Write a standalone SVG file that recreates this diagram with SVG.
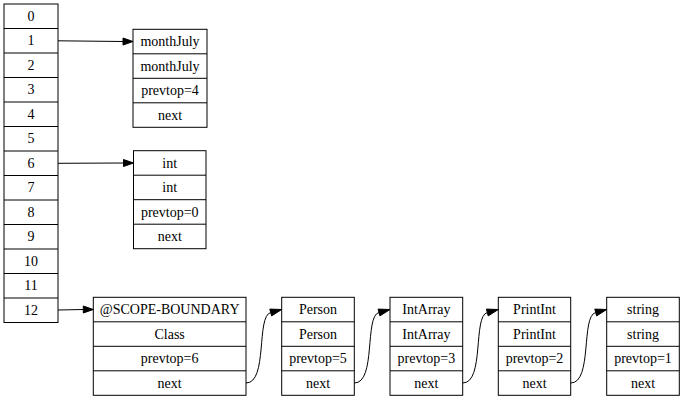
<svg xmlns="http://www.w3.org/2000/svg" width="683" height="400" viewBox="0 0 683 400">
<style>
rect{fill:#fff;stroke:#000;stroke-width:1}
rect.bg{fill:#fff;stroke:none}
line.d{stroke:#000;stroke-width:1}
text{font-family:"Liberation Serif","Times New Roman",serif;font-size:14px;text-anchor:middle;fill:#000}
.e path,.e line{fill:none;stroke:#000;stroke-width:1}
.e polygon{fill:#000;stroke:#000;stroke-width:1}
</style>
<rect class="bg" width="683" height="400"/>
<g id="stack">
<rect x="4" y="4" width="54" height="318.5"/>
<line class="d" x1="4" y1="28.5" x2="58" y2="28.5"/>
<line class="d" x1="4" y1="53" x2="58" y2="53"/>
<line class="d" x1="4" y1="77.5" x2="58" y2="77.5"/>
<line class="d" x1="4" y1="102" x2="58" y2="102"/>
<line class="d" x1="4" y1="126.5" x2="58" y2="126.5"/>
<line class="d" x1="4" y1="151" x2="58" y2="151"/>
<line class="d" x1="4" y1="175.5" x2="58" y2="175.5"/>
<line class="d" x1="4" y1="200" x2="58" y2="200"/>
<line class="d" x1="4" y1="224.5" x2="58" y2="224.5"/>
<line class="d" x1="4" y1="249" x2="58" y2="249"/>
<line class="d" x1="4" y1="273.5" x2="58" y2="273.5"/>
<line class="d" x1="4" y1="298" x2="58" y2="298"/>
<text x="31" y="20.9">0</text>
<text x="31" y="45.4">1</text>
<text x="31" y="69.9">2</text>
<text x="31" y="94.4">3</text>
<text x="31" y="118.9">4</text>
<text x="31" y="143.4">5</text>
<text x="31" y="167.9">6</text>
<text x="31" y="192.4">7</text>
<text x="31" y="216.9">8</text>
<text x="31" y="241.4">9</text>
<text x="31" y="265.9">10</text>
<text x="31" y="290.4">11</text>
<text x="31" y="314.9">12</text>
</g>
<g id="node_monthJuly">
<rect x="133" y="29.3" width="74" height="98"/>
<line class="d" x1="133" y1="53.8" x2="207" y2="53.8"/>
<line class="d" x1="133" y1="78.3" x2="207" y2="78.3"/>
<line class="d" x1="133" y1="102.8" x2="207" y2="102.8"/>
<text x="170" y="46.2">monthJuly</text>
<text x="170" y="70.7">monthJuly</text>
<text x="170" y="95.2">prevtop=4</text>
<text x="170" y="119.7">next</text>
</g>
<g id="node_int">
<rect x="133.5" y="150.7" width="72.5" height="98"/>
<line class="d" x1="133.5" y1="175.2" x2="206" y2="175.2"/>
<line class="d" x1="133.5" y1="199.7" x2="206" y2="199.7"/>
<line class="d" x1="133.5" y1="224.2" x2="206" y2="224.2"/>
<text x="169.75" y="167.6">int</text>
<text x="169.75" y="192.1">int</text>
<text x="169.75" y="216.6">prevtop=0</text>
<text x="169.75" y="241.1">next</text>
</g>
<g id="node_scope">
<rect x="93.3" y="297.3" width="152.7" height="98"/>
<line class="d" x1="93.3" y1="321.8" x2="246" y2="321.8"/>
<line class="d" x1="93.3" y1="346.3" x2="246" y2="346.3"/>
<line class="d" x1="93.3" y1="370.8" x2="246" y2="370.8"/>
<text x="169.65" y="314.2">@SCOPE-BOUNDARY</text>
<text x="169.65" y="338.7">Class</text>
<text x="169.65" y="363.2">prevtop=6</text>
<text x="169.65" y="387.7">next</text>
</g>
<g id="node_person">
<rect x="281.7" y="297.3" width="72.6" height="98"/>
<line class="d" x1="281.7" y1="321.8" x2="354.3" y2="321.8"/>
<line class="d" x1="281.7" y1="346.3" x2="354.3" y2="346.3"/>
<line class="d" x1="281.7" y1="370.8" x2="354.3" y2="370.8"/>
<text x="318" y="314.2">Person</text>
<text x="318" y="338.7">Person</text>
<text x="318" y="363.2">prevtop=5</text>
<text x="318" y="387.7">next</text>
</g>
<g id="node_intarray">
<rect x="390" y="297.3" width="72.7" height="98"/>
<line class="d" x1="390" y1="321.8" x2="462.7" y2="321.8"/>
<line class="d" x1="390" y1="346.3" x2="462.7" y2="346.3"/>
<line class="d" x1="390" y1="370.8" x2="462.7" y2="370.8"/>
<text x="426.35" y="314.2">IntArray</text>
<text x="426.35" y="338.7">IntArray</text>
<text x="426.35" y="363.2">prevtop=3</text>
<text x="426.35" y="387.7">next</text>
</g>
<g id="node_printint">
<rect x="498.3" y="297.3" width="72.4" height="98"/>
<line class="d" x1="498.3" y1="321.8" x2="570.7" y2="321.8"/>
<line class="d" x1="498.3" y1="346.3" x2="570.7" y2="346.3"/>
<line class="d" x1="498.3" y1="370.8" x2="570.7" y2="370.8"/>
<text x="534.5" y="314.2">PrintInt</text>
<text x="534.5" y="338.7">PrintInt</text>
<text x="534.5" y="363.2">prevtop=2</text>
<text x="534.5" y="387.7">next</text>
</g>
<g id="node_string">
<rect x="606.7" y="297.3" width="72.6" height="98"/>
<line class="d" x1="606.7" y1="321.8" x2="679.3" y2="321.8"/>
<line class="d" x1="606.7" y1="346.3" x2="679.3" y2="346.3"/>
<line class="d" x1="606.7" y1="370.8" x2="679.3" y2="370.8"/>
<text x="643" y="314.2">string</text>
<text x="643" y="338.7">string</text>
<text x="643" y="363.2">prevtop=1</text>
<text x="643" y="387.7">next</text>
</g>
<g id="connectors" class="e">
<line x1="58" y1="40.8" x2="123" y2="41.5"/>
<polygon points="123,38 133,41.5 123,45"/>
<line x1="58" y1="163.3" x2="123.5" y2="163"/>
<polygon points="123.5,159.5 133.5,163 123.5,166.5"/>
<line x1="58" y1="310" x2="83.3" y2="309.5"/>
<polygon points="83.3,306 93.3,309.5 83.3,313"/>
<path d="M246,383 C268,383 256,316 270.7,312.5"/>
<polygon points="271.6,315.9 281.7,309.5 269.8,309.1"/>
<path d="M354.3,383 C376.3,383 364.3,316 379,312.5"/>
<polygon points="379.9,315.9 390,309.5 378.1,309.1"/>
<path d="M462.7,383 C484.7,383 472.7,316 487.3,312.5"/>
<polygon points="488.2,315.9 498.3,309.5 486.4,309.1"/>
<path d="M570.7,383 C592.7,383 580.7,316 595.7,312.5"/>
<polygon points="596.6,315.9 606.7,309.5 594.8,309.1"/>
</g>
</svg>
